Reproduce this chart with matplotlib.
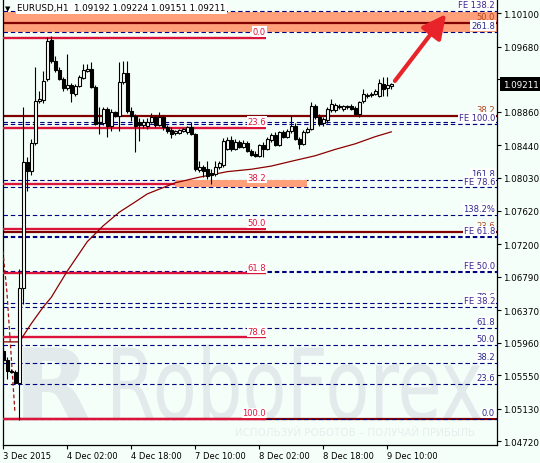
import matplotlib
matplotlib.use("Agg")
import matplotlib.pyplot as plt
import numpy as np
from matplotlib.patches import Rectangle, PathPatch
from matplotlib.textpath import TextPath
from matplotlib.font_manager import FontProperties
from matplotlib.transforms import Affine2D, blended_transform_factory

plt.rcParams['font.family'] = ['DejaVu Sans']

symbol = "EURUSD,H1"

# EURUSD H1 candles, bar 0 = 3 Dec 10:00
opens = [1.0586, 1.0574, 1.0560, 1.0559, 1.0545, 1.0665, 1.0823, 1.0812, 1.0847, 1.0900,
         1.0901, 1.0927, 1.0977, 1.0950, 1.0939, 1.0927, 1.0916, 1.0920, 1.0909, 1.0919,
         1.0929, 1.0938, 1.0940, 1.0917, 1.0872, 1.0872, 1.0890, 1.0868, 1.0886, 1.0881,
         1.0924, 1.0935, 1.0887, 1.0881, 1.0873, 1.0870, 1.0868, 1.0873, 1.0880, 1.0870,
         1.0880, 1.0867, 1.0863, 1.0860, 1.0860, 1.0862, 1.0861, 1.0867, 1.0858, 1.0813,
         1.0817, 1.0814, 1.0809, 1.0808, 1.0817, 1.0819, 1.0840, 1.0851, 1.0840, 1.0848,
         1.0842, 1.0847, 1.0837, 1.0833, 1.0831, 1.0845, 1.0840, 1.0851, 1.0857, 1.0845,
         1.0861, 1.0855, 1.0862, 1.0868, 1.0852, 1.0846, 1.0861, 1.0865, 1.0893, 1.0880,
         1.0872, 1.0876, 1.0888, 1.0888, 1.0893, 1.0890, 1.0892, 1.0893, 1.0891, 1.0883,
         1.0900, 1.0906, 1.0907, 1.0909, 1.0906, 1.0921, 1.0916, 1.09192]
highs = [1.0589, 1.0578, 1.0563, 1.0562, 1.0689, 1.0892, 1.0829, 1.0852, 1.0943, 1.0912,
         1.0938, 1.0980, 1.0982, 1.0956, 1.0943, 1.0930, 1.0959, 1.0922, 1.0921, 1.0932,
         1.0946, 1.0946, 1.0949, 1.0920, 1.0892, 1.0892, 1.0892, 1.0890, 1.0887, 1.0949,
         1.0950, 1.0950, 1.0892, 1.0883, 1.0878, 1.0877, 1.0878, 1.0885, 1.0882, 1.0886,
         1.0882, 1.0870, 1.0867, 1.0863, 1.0865, 1.0866, 1.0868, 1.0873, 1.0860, 1.0824,
         1.0819, 1.0824, 1.0814, 1.0824, 1.0824, 1.0853, 1.0855, 1.0856, 1.0852, 1.0851,
         1.0851, 1.0850, 1.0840, 1.0837, 1.0846, 1.0848, 1.0855, 1.0860, 1.0861, 1.0862,
         1.0863, 1.0865, 1.0882, 1.0872, 1.0855, 1.0863, 1.0867, 1.0899, 1.0896, 1.0883,
         1.0880, 1.0892, 1.0902, 1.0897, 1.0896, 1.0895, 1.0895, 1.0896, 1.0893, 1.0900,
         1.0915, 1.0910, 1.0911, 1.0915, 1.0927, 1.0930, 1.0930, 1.09224]
lows = [1.0571, 1.0550, 1.0558, 1.0544, 1.0499, 1.0645, 1.0787, 1.0807, 1.0845, 1.0897,
        1.0897, 1.0925, 1.0948, 1.0936, 1.0926, 1.0912, 1.0914, 1.0899, 1.0906, 1.0917,
        1.0927, 1.0936, 1.0916, 1.0870, 1.0858, 1.0870, 1.0855, 1.0862, 1.0880, 1.0862,
        1.0921, 1.0885, 1.0875, 1.0836, 1.0850, 1.0866, 1.0865, 1.0872, 1.0867, 1.0868,
        1.0863, 1.0860, 1.0853, 1.0857, 1.0858, 1.0861, 1.0858, 1.0857, 1.0812, 1.0811,
        1.0804, 1.0802, 1.0796, 1.0806, 1.0814, 1.0817, 1.0838, 1.0837, 1.0838, 1.0841,
        1.0841, 1.0836, 1.0831, 1.0829, 1.0829, 1.0829, 1.0838, 1.0848, 1.0843, 1.0843,
        1.0853, 1.0853, 1.0860, 1.0851, 1.0840, 1.0845, 1.0860, 1.0863, 1.0877, 1.0868,
        1.0868, 1.0872, 1.0886, 1.0886, 1.0890, 1.0887, 1.0890, 1.0888, 1.0882, 1.0880,
        1.0897, 1.0904, 1.0905, 1.0907, 1.0905, 1.0906, 1.0906, 1.09151]
closes = [1.0574, 1.0560, 1.0559, 1.0545, 1.0665, 1.0823, 1.0812, 1.0847, 1.0900, 1.0902,
          1.0925, 1.0975, 1.0950, 1.0939, 1.0927, 1.0916, 1.0920, 1.0910, 1.0919, 1.0930,
          1.0939, 1.0940, 1.0917, 1.0871, 1.0873, 1.0890, 1.0868, 1.0886, 1.0881, 1.0924,
          1.0935, 1.0887, 1.0881, 1.0868, 1.0870, 1.0873, 1.0873, 1.0880, 1.0870, 1.0880,
          1.0867, 1.0862, 1.0858, 1.0862, 1.0863, 1.0865, 1.0867, 1.0858, 1.0814, 1.0817,
          1.0812, 1.0806, 1.0807, 1.0817, 1.0822, 1.0850, 1.0851, 1.0840, 1.0848, 1.0842,
          1.0847, 1.0837, 1.0832, 1.0831, 1.0845, 1.0840, 1.0852, 1.0857, 1.0845, 1.0861,
          1.0855, 1.0862, 1.0868, 1.0852, 1.0846, 1.0861, 1.0865, 1.0893, 1.0880, 1.0871,
          1.0877, 1.0890, 1.0896, 1.0895, 1.0892, 1.0893, 1.0893, 1.0890, 1.0883, 1.0899,
          1.0909, 1.0907, 1.0909, 1.0912, 1.0922, 1.0915, 1.0920, 1.09211]

# moving average, read at some bars
ma_bars = [0, 4, 7, 10, 12, 16, 21, 25, 29, 33, 36, 39, 43, 49, 56, 62, 67, 72, 78, 83, 88, 93, 97]
ma_vals = [1.0597, 1.0597, 1.0620, 1.0641, 1.0653, 1.0686, 1.0723, 1.0743, 1.0760, 1.0773,
           1.0783, 1.0789, 1.0797, 1.0804, 1.0811, 1.0814, 1.0818, 1.0824, 1.0831, 1.0839,
           1.0846, 1.0855, 1.0861]

# dashed trend line at the far left
trend_bars = [-0.1, 0.9, 2.9]
trend_vals = [1.0711, 1.0660, 1.0509]

# crimson retracement
red_high = 1.0979
red_low = 1.0500
red_levels = [0.0, 23.6, 38.2, 50.0, 61.8, 78.6, 100.0]
red_end_bar = 65.7

# navy retracement with extensions (the 100.0 label sits under "FE 50.0")
blue_zero = 1.0500
blue_hundred = 1.0686
blue_levels = [0.0, 23.6, 38.2, 50.0, 61.8, 78.6, 100.0, 138.2, 161.8, 261.8]
blue_labels = ["0.0", "23.6", "38.2", "50.0", "61.8", "78.6", "", "138.2%", "161.8", "261.8"]

# fibonacci expansion
fe_zero = 1.04988
fe_hundred = 1.08709
fe_levels = [38.2, 50.0, 61.8, 78.6, 100.0, 138.2]
fe_extra = [1.0873, 1.0730]

# dark red retracement (its 0.0 label is hidden by the navy one)
dark_zero = 1.0500
dark_hundred = 1.1496
dark_levels = [0.0, 23.6, 38.2, 50.0]
dark_labels = ["", "23.6", "38.2", "50.0"]

# target zones
band_top, band_bottom = 1.1012, 1.0987
zone_top, zone_bottom = 1.0800, 1.0792
zone_bars = (43, 75.8)

arrow_from = (97.9, 1.0925)
arrow_to = (110.7, 1.1009)

tick_bars = [0, 16, 32, 48, 64, 80, 96]
tick_texts = ["3 Dec 2015", "4 Dec 02:00", "4 Dec 18:00", "7 Dec 10:00",
              "8 Dec 02:00", "8 Dec 18:00", "9 Dec 10:00"]
price_ticks = [1.10100, 1.09680, 1.09270, 1.08860, 1.08440, 1.08030, 1.07620,
               1.07200, 1.06790, 1.06370, 1.05960, 1.05550, 1.05130, 1.04720]

bg = '#f5fff9'
navy = '#000080'
label_navy = '#2b2b8f'
crimson = '#dc143c'
maroon = '#800000'
salmon = '#ffa07a'

fig = plt.figure(figsize=(5.4, 4.64), dpi=100, facecolor=bg)
ax = fig.add_axes([3 / 540, 18.5 / 464, 494 / 540, 445.5 / 464])
ax.set_facecolor(bg)
ymin, ymax = 1.1028 - 445.5 * 0.0001257, 1.1028
ax.set_xlim(-0.075, 123.425)
ax.set_ylim(ymin, ymax)
x0, x1 = ax.get_xlim()
right_t = blended_transform_factory(ax.transAxes, ax.transData)

# watermark
wm_col = '#e2eaeb'
tp = TextPath((0, 0), "RoboForex", size=1, prop=FontProperties(family='DejaVu Sans'))
ax.add_patch(PathPatch(tp, transform=Affine2D().scale(72, 98).translate(106, 44),
                       facecolor=wm_col, edgecolor='none', zorder=0.5, clip_on=False))
tp2 = TextPath((0, 0), "R", size=1, prop=FontProperties(family='DejaVu Sans', weight='bold'))
ax.add_patch(PathPatch(tp2, transform=Affine2D().scale(100, 98).translate(14, 44),
                       facecolor=wm_col, edgecolor='none', zorder=0.5, clip_on=False))
ax.text((235 - 3) / 494, (445.5 - 433) / 445.5, "ИСПОЛЬЗУЙ РОБОТОВ – ПОЛУЧАЙ ПРИБЫЛЬ",
        transform=ax.transAxes, fontsize=7.4, color='#e6eeee', va='center', ha='left', zorder=0.6)

# zones
ax.add_patch(Rectangle((x0, band_bottom), x1 - x0, band_top - band_bottom,
                       facecolor=salmon, edgecolor='none', zorder=1))

# dark red levels
dark_prices = [dark_zero + l / 100 * (dark_hundred - dark_zero) for l in dark_levels]
ax.hlines(dark_prices, x0, x1, color=maroon, lw=1.6, zorder=2)
for lab, p in zip(dark_labels, dark_prices):
    if lab:
        ax.annotate(lab, (0.996, p), xycoords=right_t, xytext=(0, 1.5),
                    textcoords='offset points', ha='right', va='bottom',
                    fontsize=6, color='#b5451b', zorder=6)

# navy dashed levels
dash = (0, (4, 2.6))
blue_prices = [blue_zero + l / 100 * (blue_hundred - blue_zero) for l in blue_levels]
fe_prices = [fe_zero + l / 100 * (fe_hundred - fe_zero) for l in fe_levels]
ax.hlines(blue_prices + fe_prices + fe_extra, x0, x1, color=navy, lw=0.8,
          linestyles=[dash], zorder=2.6)

# crimson levels
red_prices = [red_high - l / 100 * (red_high - red_low) for l in red_levels]
ax.hlines(red_prices, x0, red_end_bar, color=crimson, lw=1.7, zorder=2.8)

ax.add_patch(Rectangle((zone_bars[0], zone_bottom), zone_bars[1] - zone_bars[0],
                       zone_top - zone_bottom, facecolor=salmon, edgecolor='none', zorder=3))

for l, p in zip(red_levels, red_prices):
    ax.annotate("%.1f" % l, (red_end_bar, p), xytext=(0, 1.2), textcoords='offset points',
                ha='right', va='bottom', fontsize=6, color=crimson, zorder=7,
                bbox=dict(boxstyle='square,pad=0.1', fc='white', ec='none'))

for lab, p in zip(blue_labels, blue_prices):
    if lab:
        ax.annotate(lab, (0.996, p), xycoords=right_t, xytext=(0, 1.2),
                    textcoords='offset points', ha='right', va='bottom', fontsize=6,
                    color=label_navy, zorder=7,
                    bbox=dict(boxstyle='square,pad=0.1', fc='white', ec='none'))
for l, p in zip(fe_levels, fe_prices):
    ax.annotate("FE %.1f" % l, (0.996, p), xycoords=right_t, xytext=(0, 1.2),
                textcoords='offset points', ha='right', va='bottom', fontsize=6,
                color='#3a2590', zorder=8,
                bbox=dict(boxstyle='square,pad=0.1', fc='white', ec='none'))

# moving average and trend line
ax.plot(ma_bars, ma_vals, color='#8b0000', lw=0.9, zorder=3.5)
ax.plot(trend_bars, trend_vals, color='#a01010', lw=0.9, ls=(0, (3, 2)), zorder=3.5)

# candles
o = np.array(opens)
c = np.array(closes)
xs = np.arange(len(c))
up = c >= o
ax.vlines(xs, lows, highs, color='black', lw=0.8, zorder=4)
ax.bar(xs[up], c[up] - o[up], bottom=o[up], width=0.62, color='white',
       edgecolor='black', lw=0.8, zorder=5)
ax.bar(xs[~up], o[~up] - c[~up], bottom=c[~up], width=0.62, color='black',
       edgecolor='black', lw=0.8, zorder=5)

# red arrow
ax.annotate("", xy=arrow_to, xytext=arrow_from,
            arrowprops=dict(arrowstyle='-|>,head_length=0.9,head_width=0.45',
                            mutation_scale=16, color='#e8232a', lw=3,
                            shrinkA=0, shrinkB=0), zorder=9)

# axes
ax.spines['top'].set_visible(False)
for s in ['left', 'right', 'bottom']:
    ax.spines[s].set_linewidth(0.9)
ax.yaxis.tick_right()
ax.set_yticks(price_ticks)
ax.set_yticklabels(["%.5f" % p for p in price_ticks])
ax.tick_params(axis='y', length=3, width=0.8, pad=1.5, labelsize=6.3)
ax.set_xticks(tick_bars)
ax.set_xticklabels(tick_texts, ha='left')
ax.tick_params(axis='x', length=3, width=0.8, pad=1.5, labelsize=6)

# current price marker
ax.annotate("%.5f" % closes[-1], (1.0, closes[-1]), xycoords=right_t, xytext=(4, 0),
            textcoords='offset points', ha='left', va='center', fontsize=6.3,
            color='white', annotation_clip=False, zorder=10,
            bbox=dict(boxstyle='square,pad=0.25', fc='black', ec='none'))

# header
fig.text(8 / 540, 1 - 9 / 464, "▼", fontsize=5, va='center', ha='center', color='black')
fig.text(17 / 540, 1 - 9 / 464,
         symbol + "  %.5f %.5f %.5f %.5f" % (opens[-1], highs[-1], lows[-1], closes[-1]),
         fontsize=6.3, va='center', ha='left', color='black',
         bbox=dict(boxstyle='square,pad=0.15', fc='white', ec='none'))

fig.savefig("out.png", dpi=100, facecolor=bg)
